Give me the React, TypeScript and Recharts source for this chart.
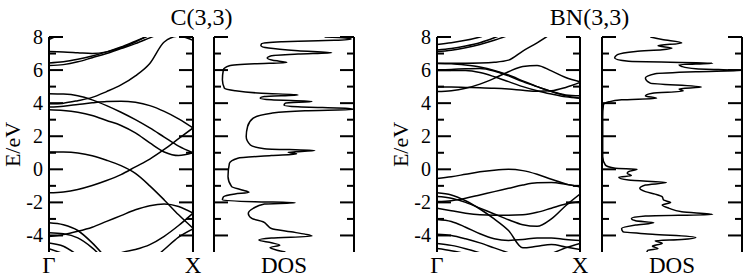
import React from 'react';
import { LineChart, Line, XAxis, YAxis } from 'recharts';

// k-path sampling, Gamma -> X
const kPoints = [0, 0.1, 0.2, 0.3, 0.4, 0.5, 0.6, 0.7, 0.8, 0.9, 1];
const energyTicks = [-4, -3, -2, -1, 0, 1, 2, 3, 4, 5, 6, 7, 8];

// C(3,3) bands, eV at each kPoint (null = outside window)
const cBands: (number | null)[][] = [
  [7.85, 8.25, null, null, null, null, null, null, null, null, null],
  [7.12, 7.1, 7.05, 7.0, 7.1, 7.35, 7.7, 8.15, null, null, null],
  [6.43, 6.5, 6.65, 6.85, 7.1, 7.4, 7.75, 8.1, null, null, null],
  [6.27, 6.33, 6.5, 6.75, 7.0, 7.3, 7.6, 7.95, 8.3, null, null],
  [3.96, 4.0, 4.15, 4.35, 4.7, 5.1, 5.65, 6.4, 7.7, 8.05, 7.8],
  [4.57, 4.55, 4.45, 4.2, 3.85, 3.45, 3.0, 2.5, 1.95, 1.4, 1.0],
  [3.6, 3.56, 3.45, 3.25, 2.95, 2.65, 2.2, 1.6, 1.05, 0.83, 1.0],
  [3.76, 3.82, 3.92, 4.02, 4.1, 4.12, 4.05, 3.85, 3.5, 3.05, 2.5],
  [1.05, 1.04, 0.98, 0.82, 0.55, 0.22, -0.25, -1.0, -1.85, -2.75, -3.56],
  [-1.42, -1.37, -1.22, -0.98, -0.68, -0.32, 0.15, 0.62, 1.2, 1.85, 2.5],
  [-4.07, -3.95, -3.75, -3.5, -3.15, -2.8, -2.45, -2.2, -2.1, -2.25, -2.65],
  [null, null, null, null, -5.6, -5.05, -4.85, -4.55, -4.05, -3.4, -2.65],
  [null, null, null, null, null, null, null, -5.6, -4.85, -4.1, -3.6],
  [-3.23, -3.35, -3.7, -4.45, -5.4, null, null, null, null, null, null],
  [-3.84, -3.9, -4.15, -4.75, -5.6, null, null, null, null, null, null],
  [-4.45, -4.65, -5.2, null, null, null, null, null, null, null, null],
  [-4.8, -5.1, null, null, null, null, null, null, null, null, null],
];

// BN(3,3) bands
const bnBands: (number | null)[][] = [
  [7.55, 7.65, 7.8, 8.0, 8.3, null, null, null, null, null, null],
  [7.22, 7.3, 7.45, 7.65, 7.95, 8.3, null, null, null, null, null],
  [7.12, 7.2, 7.35, 7.55, 7.8, 8.1, null, null, null, null, null],
  [6.42, 6.42, 6.42, 6.43, 6.47, 6.6, 7.15, 7.65, 8.2, null, null],
  [6.4, 6.38, 6.3, 6.18, 5.98, 5.7, 5.35, 5.0, 4.7, 4.45, 4.3],
  [6.02, 6.04, 6.08, 6.1, 5.95, 5.65, 5.3, 5.0, 4.72, 4.5, 4.45],
  [5.97, 5.98, 5.97, 5.85, 5.6, 5.3, 5.0, 4.75, 4.55, 4.38, 4.3],
  [4.97, 4.97, 4.95, 4.93, 4.9, 4.85, 4.78, 4.72, 4.75, 4.95, 5.25],
  [4.7, 4.75, 4.9, 5.15, 5.5, 5.9, 6.22, 6.28, 5.95, 5.55, 5.3],
  [-0.55, -0.45, -0.3, -0.15, -0.05, 0.0, -0.08, -0.3, -0.6, -0.88, -1.05],
  [-1.95, -1.9, -1.75, -1.55, -1.35, -1.15, -0.95, -0.82, -0.8, -0.9, -1.05],
  [-1.42, -1.55, -1.9, -2.4, -3.0, -3.7, -4.75, -4.65, -4.55, -4.7, -4.85],
  [-1.65, -1.75, -2.0, -2.35, -2.7, -3.05, -3.35, -3.45, -3.0, -2.2, -1.5],
  [-2.35, -2.5, -2.65, -2.75, -2.78, -2.78, -2.75, -2.6, -2.35, -2.1, -1.95],
  [-3.03, -3.15, -3.5, -3.9, -4.2, -4.3, -4.25, -4.15, -4.15, -4.25, -4.3],
  [-3.92, -4.0, -4.2, -4.45, -4.75, -5.05, null, null, null, null, null],
  [-4.48, -4.6, -4.8, -5.05, null, null, null, null, null, null, null],
  [-4.79, -4.92, -5.1, null, null, null, null, null, null, null, null],
  [null, null, null, null, null, null, null, null, -5.1, -4.75, -4.48],
];

// density of states, arbitrary units (100 = panel width)
const cDosEnergy = [8.0, 7.94, 7.88, 7.8, 7.72, 7.6, 7.47, 7.33, 7.17, 7.05, 6.97, 6.87, 6.73, 6.59, 6.46, 6.38, 6.26, 6.02, 5.41, 4.91, 4.75, 4.6, 4.5, 4.4, 4.3, 4.2, 4.1, 4.0, 3.88, 3.78, 3.68, 3.62, 3.54, 3.39, 3.09, 2.59, 1.98, 1.47, 1.25, 1.13, 1.03, 0.93, 0.83, 0.67, 0.36, -0.44, -1.05, -1.25, -1.39, -1.49, -1.66, -1.86, -1.96, -2.02, -2.1, -2.36, -2.67, -2.97, -3.17, -3.37, -3.58, -3.78, -3.92, -4.04, -4.16, -4.28, -4.44, -4.59, -4.73, -4.89, -5.0];
const cDosValue = [79, 94, 98, 86, 48, 34, 33.5, 39, 60, 84, 60, 41, 38, 42, 52, 29, 11, 6.7, 6, 7.4, 15, 34, 60, 36, 33, 41, 70, 51, 50, 60, 96, 100, 65, 41, 28, 24, 23, 26, 36, 72, 53, 59, 41, 17, 11, 10, 12.6, 20, 25, 15, 6.7, 6, 29, 58, 36, 28, 24.5, 27, 35, 38, 41, 55, 65, 70, 41, 32, 41, 47, 40, 45, 51];

const bnDosEnergy = [8.0, 7.85, 7.64, 7.47, 7.33, 7.23, 7.13, 6.93, 6.73, 6.53, 6.42, 6.32, 6.22, 6.08, 5.98, 5.9, 5.78, 5.52, 5.21, 4.97, 4.85, 4.73, 4.6, 4.44, 4.3, 4.2, 4.08, 3.9, 3.19, 0.77, 0.26, 0.06, 0.0, -0.14, -0.24, -0.38, -0.48, -0.65, -0.8, -0.95, -1.15, -1.35, -1.5, -1.66, -1.86, -2.0, -2.16, -2.36, -2.57, -2.73, -2.83, -2.97, -3.11, -3.23, -3.37, -3.58, -3.78, -3.92, -4.12, -4.24, -4.32, -4.48, -4.65, -4.79, -4.89, -5.0];
const bnDosValue = [34.5, 43, 57, 40, 50, 43, 24, 11, 9, 19, 79, 55, 57, 67, 100, 67, 38, 31, 34.5, 71, 55, 58, 36, 31, 39, 14, 5, 1, 0.5, 0.5, 2.4, 9.5, 25, 19, 18, 21, 12, 19, 46, 31, 27, 31, 38, 43, 44, 49, 43, 48, 57, 79, 31, 21, 24, 37, 24, 14, 15, 36, 67, 57, 38, 43, 36, 40, 33, 32];

const FONT = 'Liberation Serif, serif';
const frame = { stroke: '#000', strokeWidth: 2 };

function EdgeTick(props: any) {
  const { x, y, payload, side, labels } = props;
  const v = payload.value;
  const major = v % 2 === 0;
  const len = major ? 14 : 7;
  const dir = side === 'left' ? 1 : -1;
  return (
    <g>
      <line x1={x} y1={y} x2={x + dir * len} y2={y} stroke="#000" strokeWidth={2} />
      {labels && major && (
        <text x={x - 6} y={y} dy="0.35em" textAnchor="end" style={{ fontFamily: FONT, fontSize: 20 }} fill="#000">
          {v}
        </text>
      )}
    </g>
  );
}

function BandPanel({ bands, left, rightW }: { bands: (number | null)[][]; left: number; rightW: number }) {
  const rows = kPoints.map((k, i) => {
    const r: any = { k };
    bands.forEach((b, j) => (r['b' + j] = b[i]));
    return r;
  });
  return (
    <div style={{ position: 'absolute', left, top: 0 }}>
      <LineChart width={200} height={278} data={rows} margin={{ top: 37, right: 0, bottom: 26, left: 0 }}>
        <XAxis type="number" dataKey="k" domain={[0, 1]} allowDataOverflow height={0} tick={false} tickLine={false} axisLine={frame} />
        <XAxis xAxisId="top" orientation="top" type="number" dataKey="k" domain={[0, 1]} allowDataOverflow height={0} tick={false} tickLine={false} axisLine={frame} />
        <YAxis yAxisId="e" type="number" domain={[-5, 8]} allowDataOverflow ticks={energyTicks} interval={0} width={49}
          axisLine={frame} tickLine={false} tickSize={0} tickMargin={0}
          tick={(p: any) => <EdgeTick {...p} side="left" labels />} />
        <YAxis yAxisId="r" orientation="right" type="number" domain={[-5, 8]} allowDataOverflow ticks={energyTicks} interval={0} width={rightW}
          axisLine={frame} tickLine={false} tickSize={0} tickMargin={0}
          tick={(p: any) => <EdgeTick {...p} side="right" />} />
        {bands.map((_, j) => (
          <Line key={j} yAxisId="e" type="monotone" dataKey={'b' + j} stroke="#000" strokeWidth={1.5}
            dot={false} activeDot={false} isAnimationActive={false} />
        ))}
      </LineChart>
    </div>
  );
}

function DosPanel({ energy, value, left }: { energy: number[]; value: number[]; left: number }) {
  const rows = energy.map((e, i) => ({ e, d: value[i] })).sort((a, b) => a.e - b.e);
  return (
    <div style={{ position: 'absolute', left, top: 0 }}>
      <LineChart layout="vertical" width={155} height={278} data={rows} margin={{ top: 37, right: 0, bottom: 26, left: 0 }}>
        <XAxis type="number" domain={[0, 100]} allowDataOverflow height={0} tick={false} tickLine={false} axisLine={frame} />
        <XAxis xAxisId="top" orientation="top" type="number" domain={[0, 100]} allowDataOverflow height={0} tick={false} tickLine={false} axisLine={frame} />
        <YAxis yAxisId="e" dataKey="e" type="number" reversed domain={[-5, 8]} allowDataOverflow ticks={energyTicks} interval={0} width={9}
          axisLine={frame} tickLine={false} tickSize={0} tickMargin={0}
          tick={(p: any) => <EdgeTick {...p} side="left" />} />
        <YAxis yAxisId="r" dataKey="e" orientation="right" type="number" reversed domain={[-5, 8]} allowDataOverflow ticks={energyTicks} interval={0} width={6}
          axisLine={frame} tickLine={false} tickSize={0} tickMargin={0}
          tick={(p: any) => <EdgeTick {...p} side="right" />} />
        <Line yAxisId="e" type="monotone" dataKey="d" stroke="#000" strokeWidth={1.5}
          dot={false} activeDot={false} isAnimationActive={false} />
      </LineChart>
    </div>
  );
}

export default function App() {
  const txt = { fontFamily: FONT, fill: '#000' };
  return (
    <div style={{ position: 'absolute', left: 0, top: 0, width: 747, height: 278, background: '#fff' }}>
      <BandPanel bands={cBands} left={0} rightW={7} />
      <DosPanel energy={cDosEnergy} value={cDosValue} left={205} />
      <BandPanel bands={bnBands} left={388} rightW={8} />
      <DosPanel energy={bnDosEnergy} value={bnDosValue} left={593} />
      <svg width={747} height={278} style={{ position: 'absolute', left: 0, top: 0, pointerEvents: 'none' }}>
        <text x={201.5} y={25} textAnchor="middle" fontSize={24} {...txt}>C(3,3)</text>
        <text x={589.5} y={25} textAnchor="middle" fontSize={24} {...txt}>BN(3,3)</text>
        <text x={20} y={144.5} textAnchor="middle" fontSize={22} transform="rotate(-90 20 144.5)" {...txt}>E/eV</text>
        <text x={408} y={144.5} textAnchor="middle" fontSize={22} transform="rotate(-90 408 144.5)" {...txt}>E/eV</text>
        <text x={49} y={273} textAnchor="middle" fontSize={23} {...txt}>Γ</text>
        <text x={193} y={273} textAnchor="middle" fontSize={23} {...txt}>X</text>
        <text x={284} y={273} textAnchor="middle" fontSize={23} {...txt}>DOS</text>
        <text x={437} y={273} textAnchor="middle" fontSize={23} {...txt}>Γ</text>
        <text x={580} y={273} textAnchor="middle" fontSize={23} {...txt}>X</text>
        <text x={672} y={273} textAnchor="middle" fontSize={23} {...txt}>DOS</text>
      </svg>
    </div>
  );
}
